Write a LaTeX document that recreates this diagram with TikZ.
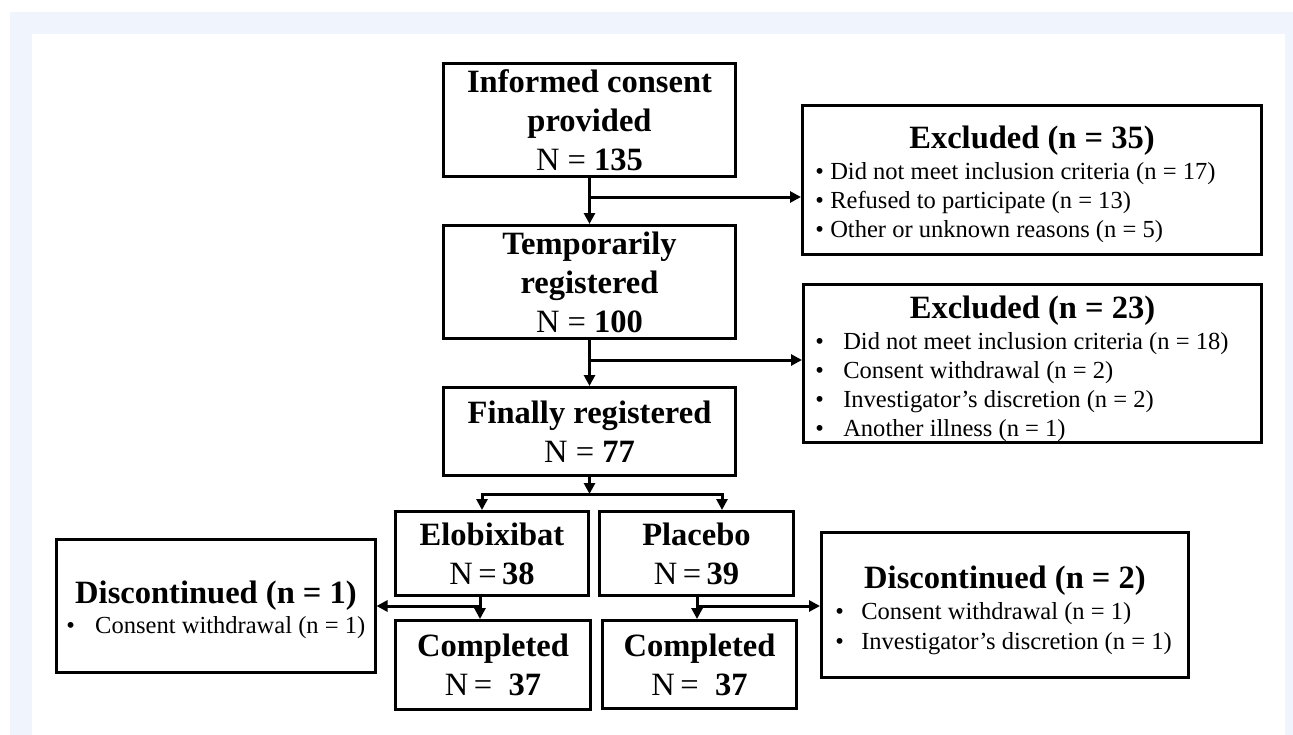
\documentclass[tikz,border=0pt]{standalone}
\usepackage{fontspec}
\setmainfont{Liberation Serif}
\usetikzlibrary{arrows.meta,calc}
\definecolor{bgblue}{RGB}{240,245,253}
\newcommand{\myBig}{\fontsize{24.4}{29.25}\selectfont\bfseries}
\newcommand{\mySmall}{\fontsize{18.4}{21.8}\selectfont}
\newcommand{\mySmallWide}{\fontsize{18.4}{22.5}\selectfont}
\newcommand{\bul}[1]{\makebox[#1pt][l]{•}}
\tikzset{
  flowbox/.style={draw=black, line width=2.25pt, fill=white, inner sep=0pt, align=center, font=\myBig},
  titletext/.style={inner sep=0pt, font=\myBig},
  listtext/.style={inner sep=0pt, font=\mySmall, align=left, anchor=west},
  conn/.style={line width=2.25pt, -{Triangle[length=8.25pt,width=8.25pt]}},
}
\begin{document}
\begin{tikzpicture}[x=0.75pt,y=-0.75pt]
\useasboundingbox (0,0) rectangle (1293,735);
\fill[bgblue] (10,12) rectangle (1293,735);
\fill[white] (32,34) rectangle (1285,735);

% main column
\node[flowbox, minimum width=219pt, minimum height=84.75pt] (b1) at (589.5,120)
  {Informed consent\\provided\\{\mdseries N =} 135};
\node[flowbox, minimum width=219pt, minimum height=84.75pt] (b2) at (589.5,282)
  {Temporarily\\registered\\{\mdseries N =} 100};
\node[flowbox, minimum width=219pt, minimum height=66pt] (b3) at (589.5,431.5)
  {Finally registered\\{\mdseries N =} 77};

% excluded boxes
\node[flowbox, minimum width=344.25pt, minimum height=111.75pt] (ex1) at (1032,180) {};
\node[titletext] (ex1t) at (1032,140.5) {Excluded (n = 35)};
\node[listtext] (ex1l) at (815,203)
  {\bul{11.25}Did not meet inclusion criteria (n = 17)\\
   \bul{11.25}Refused to participate (n = 13)\\
   \bul{11.25}Other or unknown reasons (n = 5)};

\node[flowbox, minimum width=343.5pt, minimum height=118.5pt] (ex2) at (1032.5,363.5) {};
\node[titletext] (ex2t) at (1032.5,310.5) {Excluded (n = 23)};
\node[listtext] (ex2l) at (815,387)
  {\bul{21}Did not meet inclusion criteria (n = 18)\\
   \bul{21}Consent withdrawal (n = 2)\\
   \bul{21}Investigator’s discretion (n = 2)\\
   \bul{21}Another illness (n = 1)};

% arms
\node[flowbox, minimum width=144.75pt, minimum height=63pt] (elo) at (492,553.5)
  {Elobixibat\\{\mdseries N\,=\,}38};
\node[flowbox, minimum width=145.5pt, minimum height=63pt] (pla) at (696.5,553.5)
  {Placebo\\{\mdseries N\,=\,}39};
\node[flowbox, minimum width=146.25pt, minimum height=66.75pt] (c1) at (493,665)
  {Completed\\{\mdseries N\,= } 37};
\node[flowbox, minimum width=145.5pt, minimum height=66pt] (c2) at (699.5,664.5)
  {Completed\\{\mdseries N\,= } 37};

% discontinued boxes
\node[flowbox, minimum width=239.25pt, minimum height=99.75pt] (d1) at (215.5,605.5) {};
\node[titletext] (d1t) at (216,596) {Discontinued (n = 1)};
\node[listtext] (d1l) at (66,627.5) {\bul{21.75}Consent withdrawal (n = 1)};

\node[flowbox, minimum width=275.25pt, minimum height=108.75pt] (d2) at (1005,605) {};
\node[titletext] (d2t) at (1005,581) {Discontinued (n = 2)};
\node[listtext, font=\mySmallWide] (d2l) at (835,629)
  {\bul{19.5}Consent withdrawal (n = 1)\\
   \bul{19.5}Investigator’s discretion (n = 1)};

% connectors
\coordinate (j1) at (589.5,197);
\coordinate (j2) at (589.5,360);
\coordinate (jm) at (589.5,494);
\coordinate (jl) at (482,494);
\coordinate (jr) at (722,494);
\coordinate (ke) at (480,606);
\coordinate (kp) at (697,606);

\draw[conn] (b1.south) -- (b2.north);
\draw[conn] (j1) -- (j1 -| ex1.west);
\draw[conn] (b2.south) -- (b3.north);
\draw[conn] (j2) -- (j2 -| ex2.west);
\draw[conn] (b3.south) -- (jm);
\draw[conn] (jm) -- (jl) -- (jl |- elo.north);
\draw[conn] (jm) -- (jr) -- (jr |- pla.north);
\draw[conn] (ke |- elo.south) -- (ke |- c1.north);
\draw[conn] (ke) -- (ke -| d1.east);
\draw[conn] (kp |- pla.south) -- (kp |- c2.north);
\draw[conn] (kp) -- (kp -| d2.west);
\end{tikzpicture}
\end{document}
